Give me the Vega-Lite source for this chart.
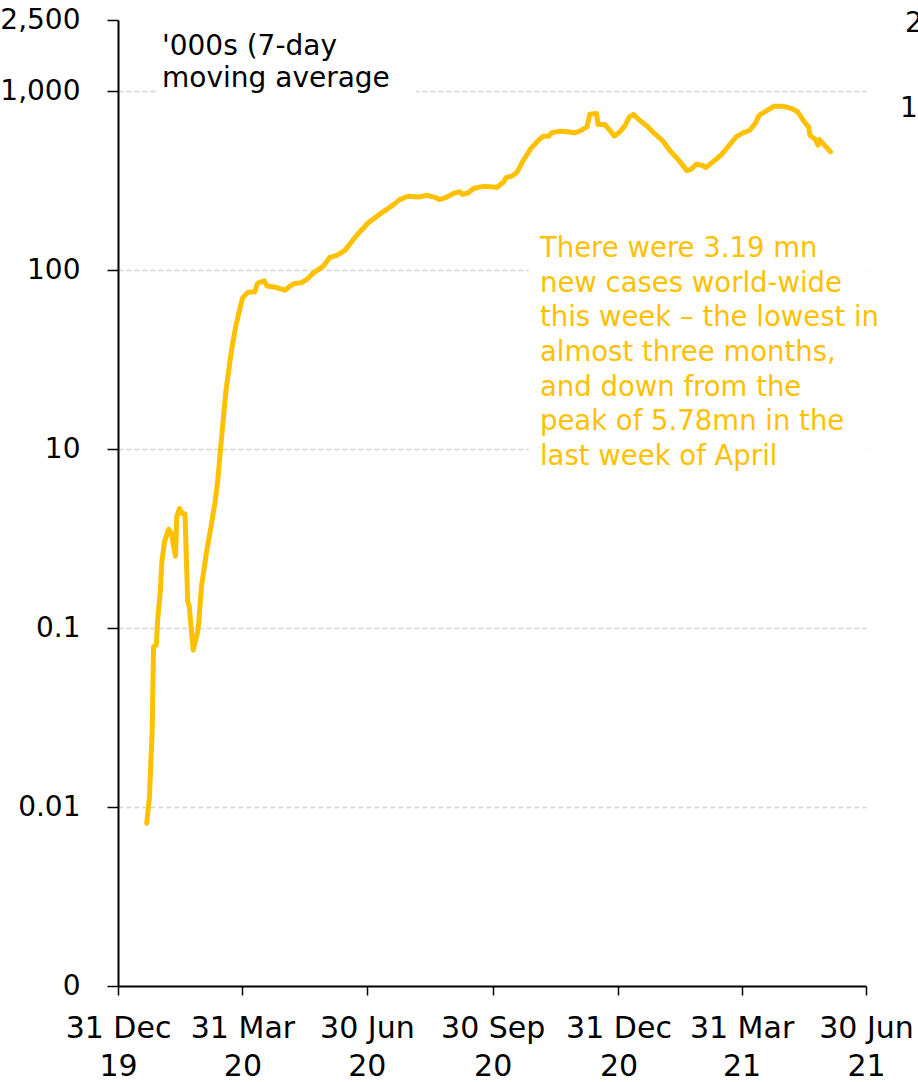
{
  "$schema": "https://vega.github.io/schema/vega-lite/v6.json",
  "width": 748,
  "height": 966,
  "autosize": {"type": "none"},
  "padding": {"left": 118, "top": 20, "right": 52, "bottom": 96},
  "background": "white",
  "config": {
    "view": {"stroke": null},
    "font": "DejaVu Sans",
    "axis": {"labelFont": "DejaVu Sans", "labelColor": "#000000"}
  },
  "data": {
    "values": [
      {"date": "2020-01-21", "cases": 0.081},
      {"date": "2020-01-23", "cases": 0.114},
      {"date": "2020-01-25", "cases": 0.269},
      {"date": "2020-01-26", "cases": 0.787},
      {"date": "2020-01-28", "cases": 0.804},
      {"date": "2020-01-29", "cases": 1.11},
      {"date": "2020-01-31", "cases": 1.63},
      {"date": "2020-02-01", "cases": 2.31},
      {"date": "2020-02-03", "cases": 3.04},
      {"date": "2020-02-06", "cases": 3.56},
      {"date": "2020-02-08", "cases": 3.39},
      {"date": "2020-02-11", "cases": 2.52},
      {"date": "2020-02-12", "cases": 4.19},
      {"date": "2020-02-14", "cases": 4.66},
      {"date": "2020-02-16", "cases": 4.37},
      {"date": "2020-02-18", "cases": 4.34},
      {"date": "2020-02-20", "cases": 1.40},
      {"date": "2020-02-21", "cases": 1.34},
      {"date": "2020-02-24", "cases": 0.753},
      {"date": "2020-02-27", "cases": 0.933},
      {"date": "2020-02-28", "cases": 1.06},
      {"date": "2020-03-01", "cases": 1.70},
      {"date": "2020-03-05", "cases": 2.73},
      {"date": "2020-03-08", "cases": 3.68},
      {"date": "2020-03-11", "cases": 5.06},
      {"date": "2020-03-13", "cases": 6.71},
      {"date": "2020-03-15", "cases": 10.1},
      {"date": "2020-03-19", "cases": 21.4},
      {"date": "2020-03-23", "cases": 35.7},
      {"date": "2020-03-26", "cases": 48.2},
      {"date": "2020-03-28", "cases": 56.1},
      {"date": "2020-03-31", "cases": 69.5},
      {"date": "2020-04-03", "cases": 74.1},
      {"date": "2020-04-05", "cases": 75.6},
      {"date": "2020-04-09", "cases": 75.6},
      {"date": "2020-04-11", "cases": 84.3},
      {"date": "2020-04-14", "cases": 86.1},
      {"date": "2020-04-16", "cases": 87.1},
      {"date": "2020-04-18", "cases": 81.5},
      {"date": "2020-04-25", "cases": 80.0},
      {"date": "2020-05-01", "cases": 77.3},
      {"date": "2020-05-05", "cases": 81.5},
      {"date": "2020-05-08", "cases": 84.3},
      {"date": "2020-05-13", "cases": 85.0},
      {"date": "2020-05-17", "cases": 88.7},
      {"date": "2020-05-22", "cases": 96.6},
      {"date": "2020-05-25", "cases": 100},
      {"date": "2020-05-29", "cases": 105},
      {"date": "2020-06-03", "cases": 118},
      {"date": "2020-06-08", "cases": 121},
      {"date": "2020-06-14", "cases": 129},
      {"date": "2020-06-20", "cases": 148},
      {"date": "2020-06-25", "cases": 164},
      {"date": "2020-07-01", "cases": 184},
      {"date": "2020-07-10", "cases": 207},
      {"date": "2020-07-19", "cases": 231},
      {"date": "2020-07-24", "cases": 248},
      {"date": "2020-07-30", "cases": 259},
      {"date": "2020-08-07", "cases": 256},
      {"date": "2020-08-13", "cases": 262},
      {"date": "2020-08-19", "cases": 255},
      {"date": "2020-08-22", "cases": 248},
      {"date": "2020-08-27", "cases": 255},
      {"date": "2020-09-02", "cases": 270},
      {"date": "2020-09-06", "cases": 274},
      {"date": "2020-09-08", "cases": 265},
      {"date": "2020-09-12", "cases": 270},
      {"date": "2020-09-16", "cases": 286},
      {"date": "2020-09-23", "cases": 294},
      {"date": "2020-09-30", "cases": 292},
      {"date": "2020-10-03", "cases": 290},
      {"date": "2020-10-08", "cases": 311},
      {"date": "2020-10-10", "cases": 330},
      {"date": "2020-10-14", "cases": 335},
      {"date": "2020-10-18", "cases": 354},
      {"date": "2020-10-22", "cases": 406},
      {"date": "2020-10-28", "cases": 479},
      {"date": "2020-11-02", "cases": 527},
      {"date": "2020-11-06", "cases": 561},
      {"date": "2020-11-10", "cases": 561},
      {"date": "2020-11-12", "cases": 585},
      {"date": "2020-11-18", "cases": 598},
      {"date": "2020-11-24", "cases": 594},
      {"date": "2020-11-29", "cases": 585},
      {"date": "2020-12-03", "cases": 600},
      {"date": "2020-12-08", "cases": 632},
      {"date": "2020-12-10", "cases": 744},
      {"date": "2020-12-15", "cases": 750},
      {"date": "2020-12-16", "cases": 652},
      {"date": "2020-12-21", "cases": 652},
      {"date": "2020-12-23", "cases": 627},
      {"date": "2020-12-28", "cases": 561},
      {"date": "2021-01-01", "cases": 593},
      {"date": "2021-01-05", "cases": 646},
      {"date": "2021-01-08", "cases": 718},
      {"date": "2021-01-11", "cases": 741},
      {"date": "2021-01-14", "cases": 703},
      {"date": "2021-01-21", "cases": 637},
      {"date": "2021-01-25", "cases": 593},
      {"date": "2021-02-01", "cases": 532},
      {"date": "2021-02-07", "cases": 462},
      {"date": "2021-02-13", "cases": 412},
      {"date": "2021-02-19", "cases": 360},
      {"date": "2021-02-22", "cases": 366},
      {"date": "2021-02-26", "cases": 391},
      {"date": "2021-03-02", "cases": 386},
      {"date": "2021-03-05", "cases": 375},
      {"date": "2021-03-10", "cases": 403},
      {"date": "2021-03-16", "cases": 439},
      {"date": "2021-03-22", "cases": 499},
      {"date": "2021-03-27", "cases": 556},
      {"date": "2021-04-01", "cases": 585},
      {"date": "2021-04-06", "cases": 605},
      {"date": "2021-04-10", "cases": 661},
      {"date": "2021-04-13", "cases": 735},
      {"date": "2021-04-19", "cases": 783},
      {"date": "2021-04-24", "cases": 824},
      {"date": "2021-04-30", "cases": 824},
      {"date": "2021-05-07", "cases": 800},
      {"date": "2021-05-11", "cases": 766},
      {"date": "2021-05-16", "cases": 673},
      {"date": "2021-05-19", "cases": 632},
      {"date": "2021-05-20", "cases": 568},
      {"date": "2021-05-24", "cases": 537},
      {"date": "2021-05-26", "cases": 499},
      {"date": "2021-05-27", "cases": 537},
      {"date": "2021-05-30", "cases": 506},
      {"date": "2021-06-04", "cases": 458}
    ]
  },
  "layer": [
    {
      "data": {"values": [{}]},
      "mark": {"type": "rect", "fill": "white"},
      "encoding": {
        "x": {"datum": 1580277600000, "type": "temporal", "scale": {"type": "utc"}},
        "x2": {"datum": 1596578400000},
        "y": {"datum": 2500, "type": "quantitative"},
        "y2": {"datum": 890}
      }
    },
    {
      "data": {"values": [{}]},
      "mark": {"type": "rect", "fill": "white"},
      "encoding": {
        "x": {"datum": 1603713600000, "type": "temporal"},
        "x2": {"datum": 1625011200000},
        "y": {"datum": 171, "type": "quantitative"},
        "y2": {"datum": 7.2}
      }
    },
    {
      "mark": {"type": "line", "color": "#FFC000", "strokeWidth": 5, "strokeJoin": "round", "strokeCap": "round"},
      "encoding": {
        "x": {
          "field": "date",
          "type": "temporal",
          "scale": {
            "type": "utc",
            "domain": [
              {"year": 2019, "month": 12, "date": 31, "utc": true},
              {"year": 2021, "month": 6, "date": 30, "utc": true}
            ]
          },
          "axis": {
            "title": null,
            "grid": false,
            "values": [
              {"year": 2019, "month": 12, "date": 31, "utc": true},
              {"year": 2020, "month": 3, "date": 31, "utc": true},
              {"year": 2020, "month": 6, "date": 30, "utc": true},
              {"year": 2020, "month": 9, "date": 30, "utc": true},
              {"year": 2020, "month": 12, "date": 31, "utc": true},
              {"year": 2021, "month": 3, "date": 31, "utc": true},
              {"year": 2021, "month": 6, "date": 30, "utc": true}
            ],
            "labelExpr": "[utcFormat(datum.value, '%d %b'), utcFormat(datum.value, '%y')]",
            "labelFontSize": 30,
            "labelLineHeight": 38,
            "labelBaseline": "top",
            "labelPadding": 18,
            "labelFlush": false,
            "labelOverlap": false,
            "labelBound": false,
            "labelAlign": "center",
            "domainColor": "#000000",
            "domainWidth": 2,
            "tickColor": "#000000",
            "tickWidth": 1.5,
            "tickSize": 9
          }
        },
        "y": {
          "field": "cases",
          "type": "quantitative",
          "scale": {"type": "log", "domain": [0.01, 2500], "nice": false},
          "axis": {
            "title": null,
            "values": [0.01, 0.1, 1, 10, 100, 1000, 2500],
            "labelExpr": "datum.value > 2000 ? '2,500' : datum.value > 500 ? '1,000' : datum.value > 50 ? '100' : datum.value > 5 ? '10' : datum.value > 0.5 ? '0.1' : datum.value > 0.05 ? '0.01' : '0'",
            "labelFontSize": 28,
            "labelPadding": 27,
            "labelOverlap": false,
            "labelBound": false,
            "labelFlush": false,
            "domainColor": "#000000",
            "domainWidth": 2,
            "tickColor": "#000000",
            "tickWidth": 1.5,
            "tickSize": 11,
            "grid": true,
            "gridColor": "#d4d4d4",
            "gridDash": [5, 3],
            "gridWidth": 1.3,
            "gridOpacity": {"condition": {"test": "datum.value > 2000 || datum.value < 0.05", "value": 0}, "value": 1}
          }
        }
      }
    },
    {
      "data": {"values": [{}]},
      "mark": {
        "type": "text",
        "text": ["'000s (7-day", "moving average"],
        "align": "left",
        "baseline": "alphabetic",
        "fontSize": 28,
        "lineHeight": 32,
        "color": "#000000"
      },
      "encoding": {
        "x": {"datum": 1580533200000, "type": "temporal"},
        "y": {"datum": 1589, "type": "quantitative"}
      }
    },
    {
      "data": {"values": [{}]},
      "mark": {
        "type": "text",
        "text": ["There were 3.19 mn", "new cases world-wide", "this week – the lowest in", "almost three months,", "and down from the", "peak of 5.78mn in the", "last week of April"],
        "align": "left",
        "baseline": "alphabetic",
        "fontSize": 27.5,
        "lineHeight": 34.7,
        "color": "#FFC000"
      },
      "encoding": {
        "x": {"datum": 1604412000000, "type": "temporal"},
        "y": {"datum": 118.65, "type": "quantitative"}
      }
    },
    {
      "data": {"values": [{}]},
      "mark": {"type": "text", "text": "2,500", "align": "left", "baseline": "alphabetic", "fontSize": 28, "color": "#000000"},
      "encoding": {
        "x": {"datum": 1627473600000, "type": "temporal"},
        "y": {"datum": 2145, "type": "quantitative"}
      }
    },
    {
      "data": {"values": [{}]},
      "mark": {"type": "text", "text": "100", "align": "left", "baseline": "alphabetic", "fontSize": 28, "color": "#000000"},
      "encoding": {
        "x": {"datum": 1627153200000, "type": "temporal"},
        "y": {"datum": 718.5, "type": "quantitative"}
      }
    }
  ]
}
